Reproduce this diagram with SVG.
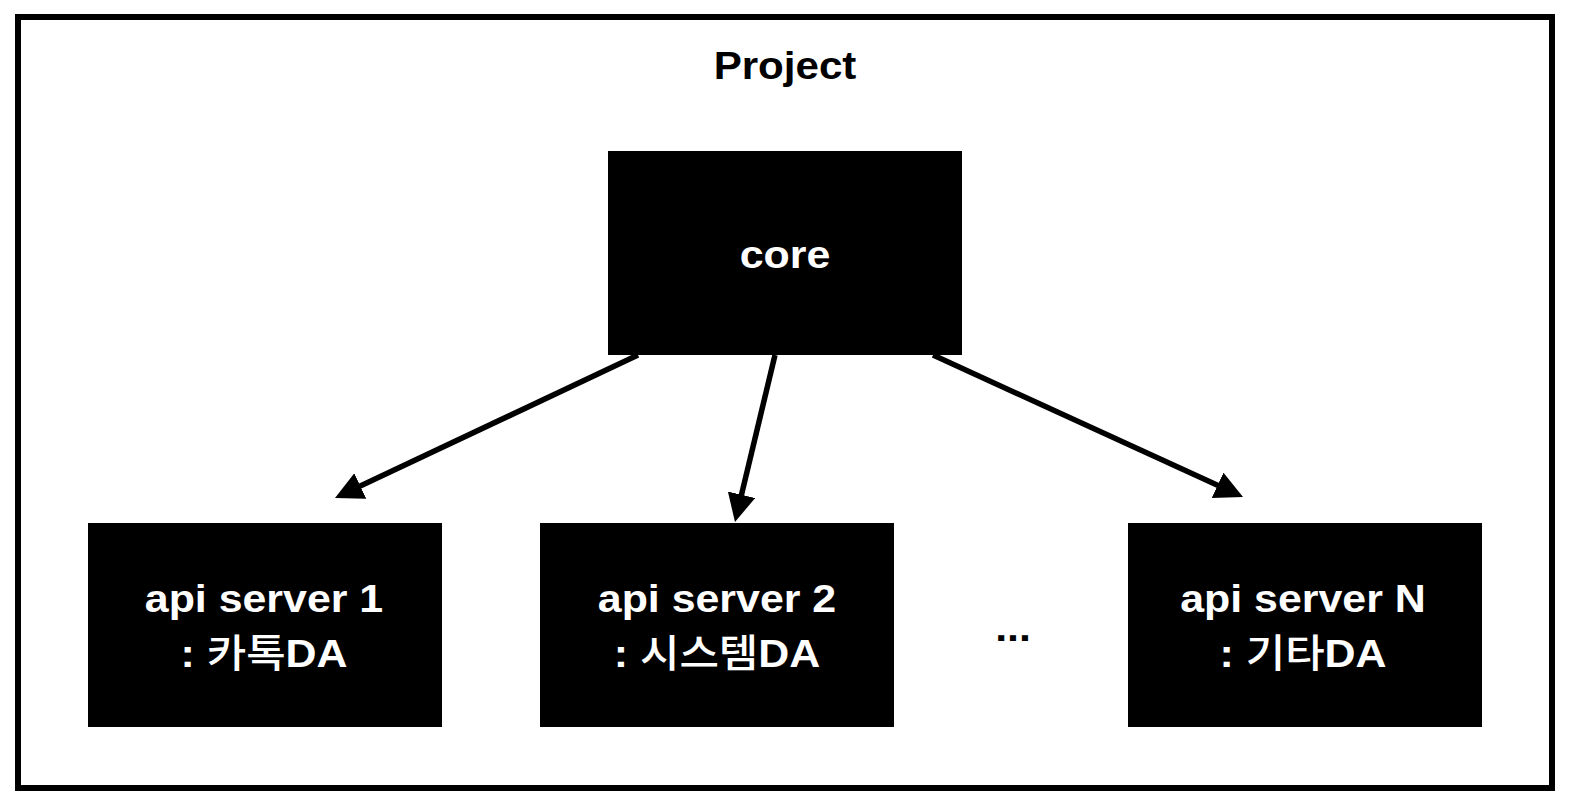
<svg xmlns="http://www.w3.org/2000/svg" width="1572" height="808" viewBox="0 0 1572 808">
<style>
.frame{fill:#fff;stroke:#000;stroke-width:6}
.box{fill:#000;stroke:none}
.t{font-family:"Liberation Sans","Noto Sans CJK KR",Arial,sans-serif;font-size:39px;font-weight:bold;text-anchor:middle}
.ko{font-weight:500}
.w{fill:#fff}
.k{fill:#000}
.conn{stroke:#000;stroke-width:5.5;fill:none}
</style>
<defs>
<marker id="arr" markerUnits="userSpaceOnUse" markerWidth="30" markerHeight="30" refX="3" refY="14" orient="auto">
<path d="M0,0 L28,14 L0,28 z" fill="#000"/>
</marker>
</defs>
<rect width="1572" height="808" fill="#fff"/>
<g id="project">
<rect class="frame" x="18" y="17" width="1534" height="771"/>
<text class="t k" transform="translate(785,79) scale(1.08,1)">Project</text>
</g>
<g id="core">
<rect class="box" x="608" y="151" width="354" height="204"/>
<text class="t w" transform="translate(785,268) scale(1.1,1)">core</text>
</g>
<g id="api1">
<rect class="box" x="88" y="523" width="354" height="204"/>
<text class="t w" transform="translate(264,612) scale(1.1,1)">api server 1</text>
<text class="t w" transform="translate(264,667) scale(1.1,1)">: <tspan class="ko">카톡</tspan>DA</text>
</g>
<g id="api2">
<rect class="box" x="540" y="523" width="354" height="204"/>
<text class="t w" transform="translate(717,612) scale(1.1,1)">api server 2</text>
<text class="t w" transform="translate(717,667) scale(1.1,1)">: <tspan class="ko">시스템</tspan>DA</text>
</g>
<g id="ellipsis">
<text class="t k" transform="translate(1013,641) scale(1.1,1)">...</text>
</g>
<g id="apiN">
<rect class="box" x="1128" y="523" width="354" height="204"/>
<text class="t w" transform="translate(1303,612) scale(1.1,1)">api server N</text>
<text class="t w" transform="translate(1303,667) scale(1.1,1)">: <tspan class="ko">기타</tspan>DA</text>
</g>
<g id="connectors">
<path class="conn" d="M638,355 L357.6,487.3" marker-end="url(#arr)"/>
<path class="conn" d="M775,355 L740.8,497.7" marker-end="url(#arr)"/>
<path class="conn" d="M933,355 L1220.3,486.6" marker-end="url(#arr)"/>
</g>
</svg>
